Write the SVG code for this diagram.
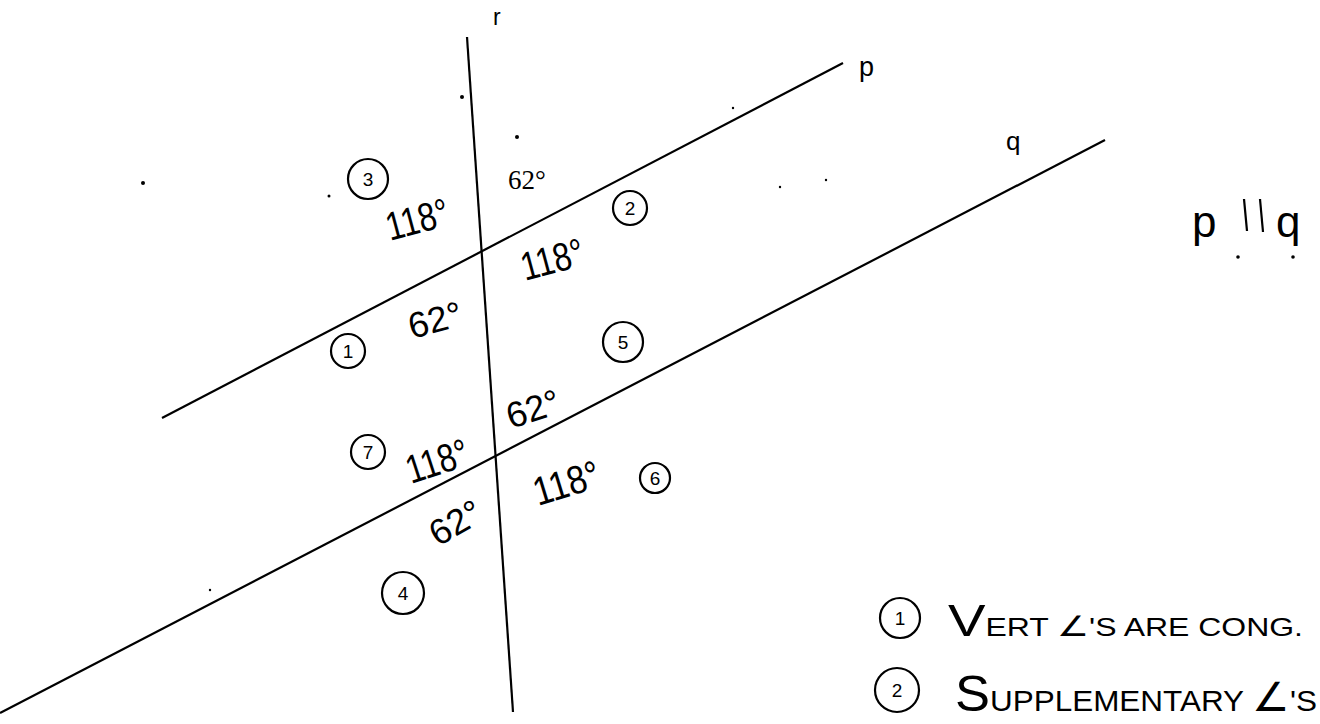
<svg xmlns="http://www.w3.org/2000/svg" width="1320" height="724" viewBox="0 0 1320 724">
<style>
.ln{stroke:#000;stroke-width:2.2;fill:none}
.lbl{font-family:"Liberation Sans",Arial,sans-serif;fill:#000}
.hw{font-family:"Liberation Sans",Arial,sans-serif;font-size:40px;fill:#000}
.hs{font-family:"Liberation Sans",Arial,sans-serif;font-size:36px;fill:#000}
.ser{font-family:"Liberation Serif","Times New Roman",serif;font-size:27px;fill:#000}
.cc{stroke:#000;stroke-width:2.2;fill:none}
.cn{font-family:"Liberation Sans",Arial,sans-serif;font-size:19px;fill:#000;text-anchor:middle}
.note{font-family:"Liberation Sans",Arial,sans-serif;fill:#000}
.dot{fill:#000}
</style>
<rect width="1320" height="724" fill="#fff"/>
<g id="connectors">
<line id="line-r" class="ln" x1="467" y1="37" x2="513" y2="712"/>
<line id="line-p" class="ln" x1="162" y1="418" x2="843" y2="63"/>
<line id="line-q" class="ln" x1="0" y1="713" x2="1105" y2="140"/>
</g>
<g id="labels">
<text class="lbl" x="493" y="25" font-size="23">r</text>
<text class="lbl" x="859" y="76" font-size="27">p</text>
<text class="lbl" x="1006" y="150" font-size="26">q</text>
</g>
<g id="angles">
<g id="a3"><circle class="cc" cx="368" cy="179" r="20"/><text class="cn" x="368" y="186">3</text></g>
<g id="a2"><circle class="cc" cx="630" cy="208" r="17"/><text class="cn" x="630" y="215">2</text></g>
<g id="a1"><circle class="cc" cx="348" cy="351" r="17"/><text class="cn" x="348" y="358">1</text></g>
<g id="a5"><circle class="cc" cx="623" cy="342" r="20"/><text class="cn" x="623" y="349">5</text></g>
<g id="a7"><circle class="cc" cx="368" cy="452" r="17"/><text class="cn" x="368" y="459">7</text></g>
<g id="a6"><circle class="cc" cx="655" cy="478" r="15"/><text class="cn" x="655" y="485">6</text></g>
<g id="a4"><circle class="cc" cx="403" cy="593" r="21"/><text class="cn" x="403" y="600">4</text></g>
<text class="hw" transform="translate(390,241) rotate(-15) scale(0.8,1)">118°</text>
<text class="ser" x="508" y="189">62°</text>
<text class="hw" transform="translate(525,281) rotate(-15) scale(0.8,1)">118°</text>
<text class="hs" transform="translate(412,339) rotate(-15)">62°</text>
<text class="hs" transform="translate(511,429) rotate(-18)">62°</text>
<text class="hw" transform="translate(411,484) rotate(-18) scale(0.8,1)">118°</text>
<text class="hw" transform="translate(538,506) rotate(-17) scale(0.85,1)">118°</text>
<text class="hs" transform="translate(438,547) rotate(-30)" font-size="32">62°</text>
</g>
<g id="pq">
<text class="note" x="1192" y="237" font-size="44">p</text>
<line class="ln" x1="1244" y1="199" x2="1247" y2="231"/>
<line class="ln" x1="1260" y1="199" x2="1263" y2="232"/>
<text class="note" x="1276" y="237" font-size="44">q</text>
<circle class="dot" cx="1238" cy="257" r="1.8"/>
<circle class="dot" cx="1293" cy="257" r="1.8"/>
</g>
<g id="notes">
<circle class="cc" cx="900" cy="618" r="20"/><text class="cn" x="900" y="625">1</text>
<text class="note" x="948" y="636" font-size="25" textLength="355" lengthAdjust="spacingAndGlyphs"><tspan font-size="44">V</tspan>ERT  <tspan font-size="28">∠</tspan>'S  ARE  CONG.</text>
<circle class="cc" cx="897" cy="690" r="22"/><text class="cn" x="897" y="697">2</text>
<text class="note" x="955" y="711" font-size="30" textLength="362" lengthAdjust="spacingAndGlyphs"><tspan font-size="50">S</tspan>UPPLEMENTARY <tspan font-size="40">∠</tspan>'S</text>
</g>
<g id="specks">
<circle class="dot" cx="143" cy="183" r="2"/>
<circle class="dot" cx="329" cy="196" r="1.5"/>
<circle class="dot" cx="462" cy="97" r="2"/>
<circle class="dot" cx="517" cy="137" r="2"/>
<circle class="dot" cx="733" cy="108" r="1.2"/>
<circle class="dot" cx="780" cy="187" r="1.2"/>
<circle class="dot" cx="826" cy="180" r="1.2"/>
<circle class="dot" cx="210" cy="590" r="1.2"/>
</g>
</svg>
